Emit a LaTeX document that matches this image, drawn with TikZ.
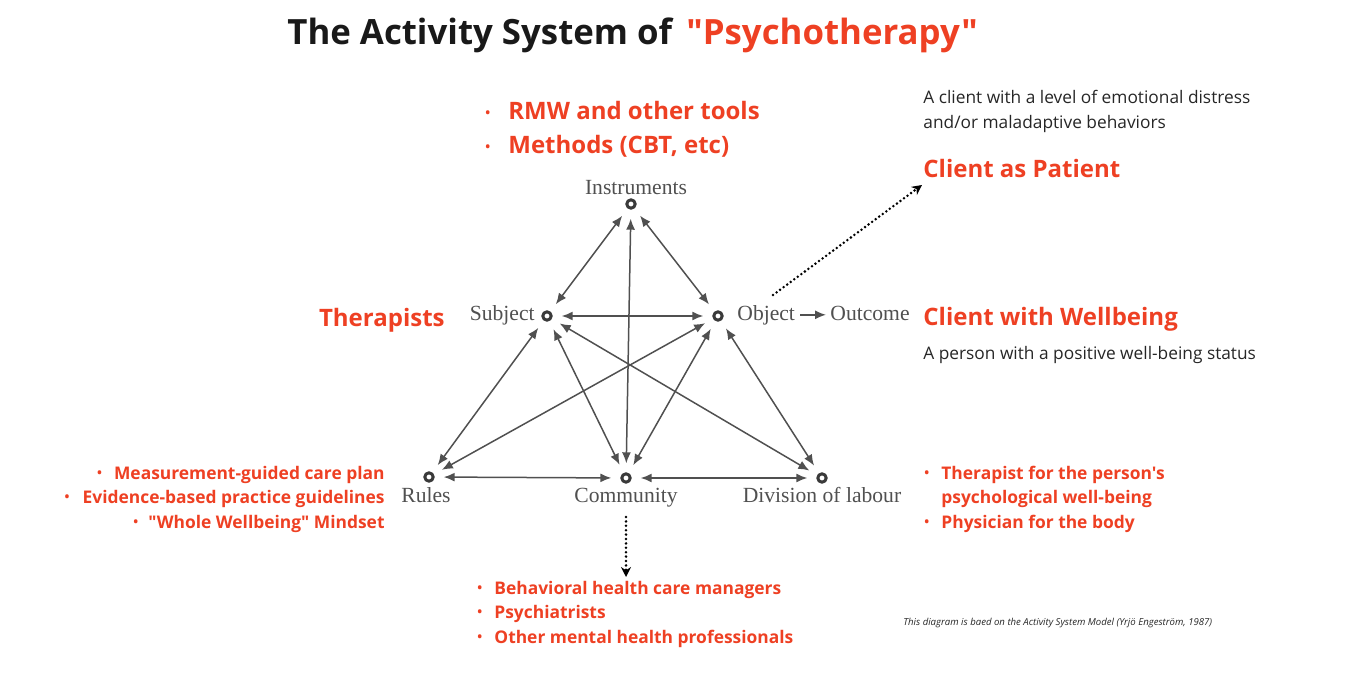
\documentclass[tikz,border=0pt]{standalone}
\usepackage{fontspec}
\usetikzlibrary{arrows.meta}
\newfontfamily\osans{Open Sans}
\newfontfamily\oserif{Liberation Serif}
\definecolor{psyred}{HTML}{EE4023}
\definecolor{diaggray}{HTML}{505050}
\definecolor{ringgray}{HTML}{3A3A3A}
\newcommand{\bul}[1]{\makebox[#1][l]{\raisebox{0.1em}{\fontsize{6.5}{6.5}\selectfont •}}}

\begin{document}
\begin{tikzpicture}[x=0.5pt, y=-0.5pt, >={Latex[length=5.5pt,width=4.5pt]}, line join=round,
  vtx/.style={circle, draw=ringgray, line width=1.5pt, minimum size=4.2pt, inner sep=0pt},
  lbl/.style={inner sep=0pt, text=diaggray, font=\oserif\fontsize{10.8}{12}\selectfont},
  link/.style={<->, draw=diaggray, line width=0.75pt, shorten <=4.5pt, shorten >=4.5pt},
  hint/.style={-{Stealth[length=5pt,width=5pt]}, line width=1.4pt, dash pattern=on 0pt off 2.2pt, line cap=round},
  redbig/.style={inner sep=0pt, text=psyred, font=\osans\bfseries\fontsize{12}{14}\selectfont},
  redlist/.style={inner sep=0pt, text=psyred, font=\osans\bfseries\fontsize{8.7}{10}\selectfont},
  note/.style={inner sep=0pt, text=black!85, font=\osans\fontsize{8.65}{10}\selectfont}]
  \useasboundingbox (0,0) rectangle (1370,674);
  % title
  \node[inner sep=0pt, anchor=base west, font=\osans\bfseries\fontsize{17.4}{20}\selectfont, text=black!90] (title) at (287,45) {The Activity System of};
  \node[inner sep=0pt, anchor=base west, font=\osans\bfseries\fontsize{17.4}{20}\selectfont, text=psyred] (titlepsy) at (686,45) {"Psychotherapy"};
  % the six corners
  \node[vtx] (ins) at (631,204) {};
  \node[vtx] (sub) at (547,316) {};
  \node[vtx] (obj) at (718,316) {};
  \node[vtx] (rul) at (429,477) {};
  \node[vtx] (com) at (626,478) {};
  \node[vtx] (div) at (822,478) {};
  \node[lbl, anchor=base] (inslbl) at (636,194) {Instruments};
  \node[lbl, anchor=base east] (sublbl) at (535,320) {Subject};
  \node[lbl, anchor=base west] (objlbl) at (737,320) {Object};
  \node[lbl, anchor=base west] (outlbl) at (830,320) {Outcome};
  \node[lbl, anchor=base west] (rullbl) at (401,502) {Rules};
  \node[lbl, anchor=base] (comlbl) at (626,502) {Community};
  \node[lbl, anchor=base] (divlbl) at (822,502) {Division of labour};
  % links
  \draw[link] (ins) -- (sub);
  \draw[link] (ins) -- (obj);
  \draw[link] (ins) -- (com);
  \draw[link] (sub) -- (obj);
  \draw[link] (sub) -- (rul);
  \draw[link] (sub) -- (com);
  \draw[link] (sub) -- (div);
  \draw[link] (obj) -- (rul);
  \draw[link] (obj) -- (com);
  \draw[link] (obj) -- (div);
  \draw[link] (rul) -- (com);
  \draw[link] (com) -- (div);
  \draw[->, draw=diaggray, line width=0.75pt, shorten <=2.5pt, shorten >=2pt] (objlbl.east) -- (objlbl.east -| outlbl.west);
  % red annotations
  \node[redbig, anchor=base west] (tools1) at (485,119.5) {\bul{11.5pt}RMW and other tools};
  \node[redbig, anchor=base west] (tools2) at (485,153.5) {\bul{11.5pt}Methods (CBT, etc)};
  \node[note, anchor=base west] (distress1) at (923,104) {A client with a level of emotional distress};
  \node[note, anchor=base west] (distress2) at (923,128) {and/or maladaptive behaviors};
  \node[redbig, anchor=base west] (patient) at (923,177) {Client as Patient};
  \node[redbig, anchor=base east] (therap) at (445,326) {Therapists};
  \node[redbig, anchor=base west] (wellb) at (923,325) {Client with Wellbeing};
  \node[note, anchor=base west] (wellnote) at (923,359) {A person with a positive well-being status};
  \node[redlist, anchor=base east] (rule1) at (385,479) {\bul{8.5pt}Measurement-guided care plan};
  \node[redlist, anchor=base east] (rule2) at (385,503) {\bul{9pt}Evidence-based practice guidelines};
  \node[redlist, anchor=base east] (rule3) at (385,528) {\bul{7.5pt}"Whole Wellbeing" Mindset};
  \node[redlist, anchor=base west] (div1) at (924,479) {\bul{8.5pt}Therapist for the person's};
  \node[redlist, anchor=base west] (div2) at (941,503) {psychological well-being};
  \node[redlist, anchor=base west] (div3) at (924,528) {\bul{8.5pt}Physician for the body};
  \node[redlist, anchor=base west] (com1) at (477,594) {\bul{8.5pt}Behavioral health care managers};
  \node[redlist, anchor=base west] (com2) at (477,618) {\bul{8.5pt}Psychiatrists};
  \node[redlist, anchor=base west] (com3) at (477,643) {\bul{8.5pt}Other mental health professionals};
  \node[inner sep=0pt, anchor=base west, text=black!85, font=\osans\itshape\fontsize{4.8}{5}\selectfont] (source) at (903,625) {This diagram is baed on the Activity System Model (Yrjö Engeström, 1987)};
  % dotted pointers
  \coordinate (patstart) at (773,295);
  \coordinate (patend) at (922,185);
  \coordinate (comstart) at (626,517);
  \coordinate (comend) at (626,577);
  \draw[hint] (patstart) -- (patend);
  \draw[hint] (comstart) -- (comend);
\end{tikzpicture}
\end{document}
